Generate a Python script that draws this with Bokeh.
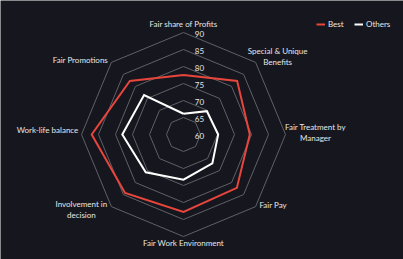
import numpy as np
from bokeh.plotting import figure
from bokeh.models import ColumnDataSource, Legend, LegendItem, Range1d
from bokeh.core.properties import value
from bokeh.embed import file_html
from bokeh.resources import INLINE

categories = ["Fair share of Profits", "Special & Unique\nBenefits", "Fair Treatment by\nManager",
              "Fair Pay", "Fair Work Environment", "Involvement in\ndecision",
              "Work-life balance", "Fair Promotions"]
best = [77.5, 82.3, 79.5, 82.2, 82.8, 84.3, 87.0, 82.3]
others = [66.1, 69.7, 70.2, 72.0, 73.3, 75.7, 78.0, 76.4]
ticks = [60, 65, 70, 75, 80, 85, 90]
rmin, rmax = 60, 90

W, H = 403, 259
CX, CY, RPX = 183, 134, 102  # pixel layout of radar
BG = "#16171e"
GRID = "#606166"
TXT = "#e6e6e6"
RED = "#e8453c"
FONT = "Lato"

n = len(categories)
ang = np.pi / 2 - 2 * np.pi * np.arange(n) / n

def rad(v):
    return (np.asarray(v, dtype=float) - rmin) / (rmax - rmin)

p = figure(width=W, height=H, output_backend="svg", toolbar_location=None,
           x_range=Range1d(-CX / RPX, (W - CX) / RPX),
           y_range=Range1d(-(H - CY) / RPX, CY / RPX),
           min_border=0, background_fill_color=BG, border_fill_color=BG,
           outline_line_color=None)
p.axis.visible = False
p.grid.visible = False

# rings
for t in ticks[1:]:
    r = rad(t)
    xs = list(r * np.cos(ang)) + [r * np.cos(ang[0])]
    ys = list(r * np.sin(ang)) + [r * np.sin(ang[0])]
    p.line(xs, ys, line_color=GRID, line_width=1)

# tick labels
tr = rad(ticks)
p.text(x=[0] * len(ticks), y=list(tr), text=[str(t) for t in ticks], x_offset=16, y_offset=1,
       text_font=value(FONT), text_font_size="8px", text_color=TXT,
       text_align="center", text_baseline="middle")

def closed(vals):
    r = rad(vals)
    xs = list(r * np.cos(ang)); ys = list(r * np.sin(ang))
    return xs + xs[:1], ys + ys[:1]

bx, by = closed(best)
ox, oy = closed(others)
rb = p.line(bx, by, line_color=RED, line_width=2, line_join="miter")
ro = p.line(ox, oy, line_color="white", line_width=2, line_join="miter")

# category labels
dx = [0, 22, 30, 17.5, 0, -30, -34, -31]
dy = [-9, -6, -2, -2, 6, 3, -4.5, -2]
src = ColumnDataSource(dict(x=list(np.cos(ang)), y=list(np.sin(ang)), t=categories,
                            xo=dx, yo=dy))
p.text(x="x", y="y", text="t", x_offset="xo", y_offset="yo", source=src,
       text_font=value(FONT), text_font_size="8px", text_color=TXT,
       text_align="center", text_baseline="middle", text_line_height=1.15)

legend = Legend(items=[LegendItem(label="Best", renderers=[rb]),
                       LegendItem(label="Others", renderers=[ro])],
                orientation="horizontal", location=(316, 230),
                background_fill_alpha=0, border_line_color=None,
                label_text_color=TXT, label_text_font=FONT, label_text_font_size="8px",
                glyph_width=9, glyph_height=8, label_standoff=3, spacing=6,
                padding=0, margin=0, label_height=8)
p.add_layout(legend, "center")

open("out.html", "w").write(file_html(p, INLINE))
